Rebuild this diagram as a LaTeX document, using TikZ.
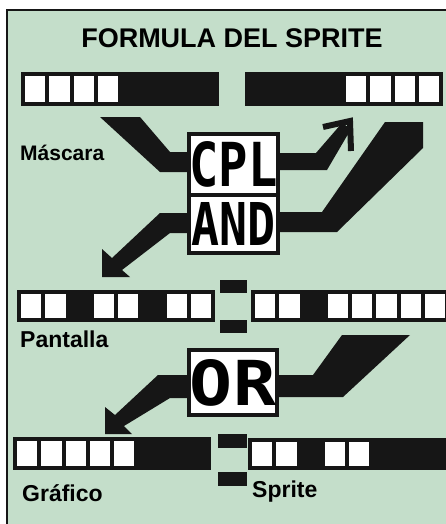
\documentclass[tikz,border=0pt]{standalone}
\usepackage{fontspec}
\setmainfont{Liberation Sans}
\newfontfamily\pixfont{DejaVu Sans Mono}
\usepackage{graphicx}
\definecolor{verde}{HTML}{C4DECA}
\definecolor{tinta}{HTML}{161616}

% byte bar: x0, top, bottom, white cells
\newcommand{\bytebar}[4]{%
  \fill[tinta] (#1,#2) rectangle ({#1+198},#3);
  \foreach \c in {#4}
    \fill[white] ({#1+4+\c*24.25},{#2+4}) rectangle ({#1+(\c+1)*24.25},{#3-4});
}

\begin{document}
\begin{tikzpicture}[x=1pt, y=-1pt,
    gate/.style={draw=tinta, fill=white, line width=4, inner sep=0,
                 minimum width=89, font=\pixfont\bfseries},
    rotulo/.style={anchor=base west, inner sep=0,
                   font=\bfseries\fontsize{23}{26}\selectfont},
    banda/.style={fill=tinta},
    punta/.style={draw=tinta, line width=6, line join=miter}]
  \useasboundingbox (0,0) rectangle (446,524);
  % fondo y marco
  \fill[verde] (7,10) rectangle (450,530);
  \draw[tinta, line width=2] (7,530) -- (7,10) -- (450,10);

  \node[anchor=base, inner sep=0, font=\bfseries\fontsize{27}{30}\selectfont]
    (titulo) at (232,48) {FORMULA DEL SPRITE};

  % bytes
  \bytebar{21}{72}{106}{0,1,2,3}
  \bytebar{245}{72}{106}{4,5,6,7}
  \bytebar{17}{290}{322}{0,1,3,4,6,7}
  \bytebar{251}{290}{322}{0,1,3,4,5,6,7}
  \bytebar{13}{437}{470}{0,1,2,3,4}
  \bytebar{248}{438}{470}{0,1,3,4}
  \foreach \y in {280,320} \fill[tinta] (220,\y) rectangle ++(27,13);
  \foreach \y in {434,472} \fill[tinta] (218,\y) rectangle ++(29,14);

  % bandas
  \fill[banda] (100,117) -- (140,117) -- (170,152) -- (190,152)
    -- (190,172) -- (160,172) -- cycle;
  \fill[banda] (278,153) -- (316,153) -- (342,123) -- (351,129)
    -- (327,170) -- (278,170) -- cycle;
  \draw[punta] (323,127) -- (350,121) -- (351,151);
  \fill[banda] (385,122) -- (423,122) -- (423,148) -- (337,232)
    -- (278,232) -- (278,212) -- (322,212) -- cycle;
  \fill[banda] (190,213) -- (160,213) -- (112,258) -- (102,249)
    -- (102,277) -- (130,277) -- (122,270) -- (170,233) -- (190,233) -- cycle;
  \fill[banda] (342,335) -- (410,335) -- (343,397) -- (276,397)
    -- (276,375) -- (313,375) -- cycle;
  \fill[banda] (190,375) -- (158,375) -- (115,415) -- (105,407)
    -- (105,434) -- (132,434) -- (124,426) -- (170,398) -- (190,398) -- cycle;

  % puertas
  \node[gate, minimum height=60.5] (cpl) at (233.5,164.25)
    {\resizebox{88pt}{45pt}{CPL}};
  \node[gate, minimum height=58.5] (and) at (233.5,223.75)
    {\resizebox{84pt}{43pt}{AND}};
  \node[gate, minimum width=88, minimum height=65] (or) at (233,382.5)
    {\resizebox{86pt}{46pt}{OR}};

  % rotulos
  \node[rotulo, font=\bfseries\fontsize{21}{24}\selectfont] (mascara) at (20,160) {Máscara};
  \node[rotulo] (pantalla) at (20,347) {Pantalla};
  \node[rotulo] (grafico) at (22,501) {Gráfico};
  \node[rotulo] (sprite) at (252,497) {Sprite};
\end{tikzpicture}
\end{document}
